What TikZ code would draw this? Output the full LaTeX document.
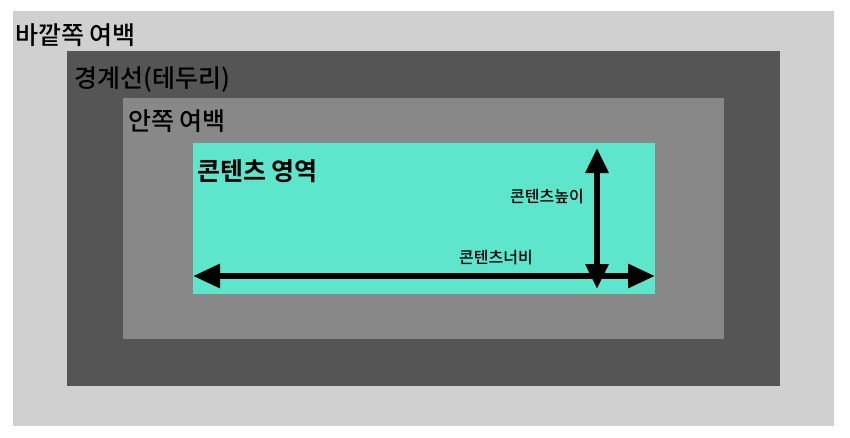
\documentclass[tikz,border=0pt]{standalone}
\usepackage{fontspec}
\setmainfont{Noto Sans CJK KR Medium}
\newfontfamily\krbold{Noto Sans CJK KR Bold}
\usetikzlibrary{arrows.meta}
\definecolor{outerc}{HTML}{D0D0D0}
\definecolor{borderc}{HTML}{555555}
\definecolor{padc}{HTML}{888888}
\definecolor{contentc}{HTML}{5EE6CC}
\tikzset{
  biglabel/.style={anchor=base west, inner sep=0pt, font=\fontsize{25}{27}\selectfont, text=black},
  smalllabel/.style={anchor=base, inner sep=0pt, font=\fontsize{16}{18}\selectfont, text=black},
  dimarrow/.style={line width=6pt, {Triangle[length=27pt,width=23pt]}-{Triangle[length=27pt,width=23pt]}}
}
\begin{document}
\begin{tikzpicture}[x=1pt,y=-1pt]
\useasboundingbox[fill=white] (0,0) rectangle (850,437);
\fill[outerc] (13,11) rectangle (834,426);
\fill[borderc] (67,51) rectangle (780,386);
\fill[padc] (123,98) rectangle (724,339);
\fill[contentc] (193,143) rectangle (655,294);
\node[biglabel] (outer) at (15,44) {바깥쪽 여백};
\node[biglabel] (border) at (74,87) {경계선(테두리)};
\node[biglabel] (pad) at (128,130) {안쪽 여백};
\node[biglabel, font=\krbold\fontsize{25}{27}\selectfont] (content) at (197,180) {콘텐츠 영역};
\node[smalllabel] (hlab) at (547,202) {콘텐츠높이};
\node[smalllabel] (wlab) at (496,263) {콘텐츠너비};
\coordinate (wl) at (193,276);
\coordinate (wr) at (655,276);
\coordinate (ht) at (597,148);
\coordinate (hb) at (597,289);
\draw[dimarrow] (wl) -- (wr);
\draw[dimarrow, {Triangle[length=25pt,width=22pt]}-{Triangle[length=25pt,width=22pt]}] (ht) -- (hb);
\end{tikzpicture}
\end{document}
